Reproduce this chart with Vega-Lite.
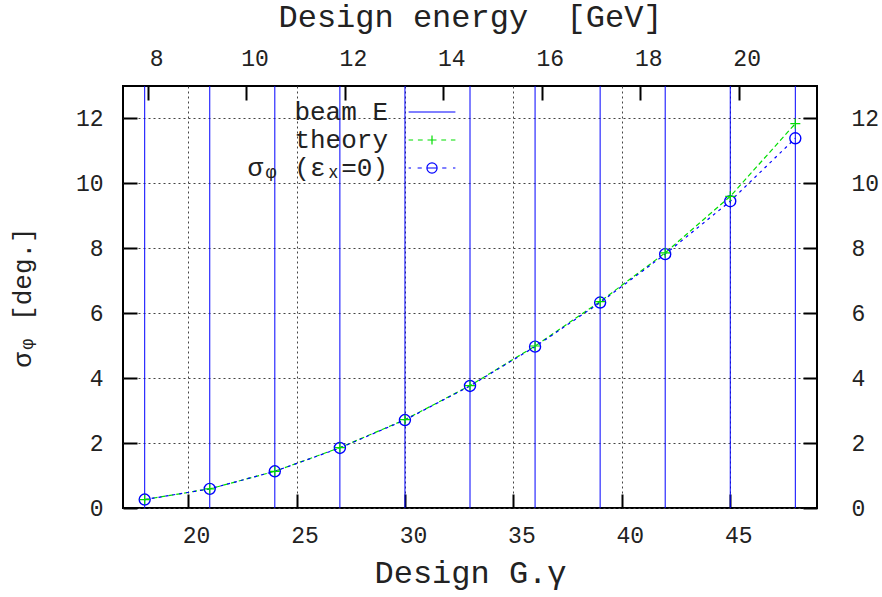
{
  "$schema": "https://vega.github.io/schema/vega-lite/v6.json",
  "width": 694,
  "height": 422,
  "autosize": {"type": "none"},
  "padding": {"left": 123, "top": 86, "right": 65, "bottom": 89},
  "background": "white",
  "config": {
    "view": {"stroke": "#000", "strokeWidth": 2},
    "font": "Liberation Mono",
    "axis": {
      "labelFont": "Liberation Mono",
      "titleFont": "Liberation Mono",
      "labelColor": "#222",
      "titleColor": "#222",
      "titleFontWeight": "normal",
      "labelFontSize": 23,
      "titleFontSize": 32,
      "domain": false,
      "tickColor": "#000",
      "tickWidth": 2,
      "tickSize": -14,
      "grid": false,
      "gridColor": "#444",
      "gridDash": [2, 3],
      "gridWidth": 1,
      "gridOpacity": 1
    }
  },
  "datasets": {
    "beam": [
      {"Ggamma": 18, "E": 7.9317},
      {"Ggamma": 21, "E": 9.2536},
      {"Ggamma": 24, "E": 10.5756},
      {"Ggamma": 27, "E": 11.8975},
      {"Ggamma": 30, "E": 13.2195},
      {"Ggamma": 33, "E": 14.5414},
      {"Ggamma": 36, "E": 15.8634},
      {"Ggamma": 39, "E": 17.1853},
      {"Ggamma": 42, "E": 18.5073},
      {"Ggamma": 45, "E": 19.8292},
      {"Ggamma": 48, "E": 21.1512}
    ],
    "sig": [
      {"Ggamma": 18, "sigma": 0.26, "theory": 0.26},
      {"Ggamma": 21, "sigma": 0.59, "theory": 0.59},
      {"Ggamma": 24, "sigma": 1.13, "theory": 1.13},
      {"Ggamma": 27, "sigma": 1.85, "theory": 1.86},
      {"Ggamma": 30, "sigma": 2.71, "theory": 2.72},
      {"Ggamma": 33, "sigma": 3.76, "theory": 3.77},
      {"Ggamma": 36, "sigma": 4.97, "theory": 4.99},
      {"Ggamma": 39, "sigma": 6.33, "theory": 6.36},
      {"Ggamma": 42, "sigma": 7.82, "theory": 7.86},
      {"Ggamma": 45, "sigma": 9.45, "theory": 9.6},
      {"Ggamma": 48, "sigma": 11.39, "theory": 11.84}
    ],
    "leg": []
  },
  "layer": [
    {
      "data": {"name": "beam"},
      "mark": {"type": "rule", "color": "#0000ff", "strokeWidth": 1},
      "encoding": {
        "x": {
          "field": "E",
          "type": "quantitative",
          "scale": {"domain": [7.491, 21.5918], "nice": false, "zero": false},
          "axis": {
            "orient": "top",
            "values": [8, 10, 12, 14, 16, 18, 20],
            "title": "Design energy\u00a0\u00a0[GeV]",
            "labelOffset": 8,
            "labelPadding": 30,
            "titlePadding": 14
          }
        }
      }
    },
    {
      "data": {"name": "sig"},
      "mark": {"type": "line", "color": "#00dd00", "strokeWidth": 1.2, "strokeDash": [5, 3]},
      "encoding": {
        "x": {
          "field": "Ggamma",
          "type": "quantitative",
          "scale": {"domain": [17, 49], "nice": false, "zero": false},
          "axis": {
            "orient": "bottom",
            "values": [20, 25, 30, 35, 40, 45],
            "grid": true,
            "title": "Design G.γ",
            "labelOffset": 8,
            "labelPadding": 30,
            "titlePadding": 10
          }
        },
        "y": {
          "field": "theory",
          "type": "quantitative",
          "scale": {"domain": [0, 13], "nice": false},
          "axis": {
            "orient": "left",
            "values": [0, 2, 4, 6, 8, 10, 12],
            "grid": true,
            "title": "σᵩ [deg.]",
            "titleFontSize": 26,
            "labelPadding": 34,
            "titlePadding": 40
          }
        }
      }
    },
    {
      "data": {"name": "sig"},
      "mark": {"type": "line", "color": "#0000ff", "strokeWidth": 1.2, "strokeDash": [3, 4]},
      "encoding": {
        "x": {"field": "Ggamma", "type": "quantitative", "scale": {"domain": [17, 49], "nice": false, "zero": false}, "axis": null},
        "y": {
          "field": "sigma",
          "type": "quantitative",
          "scale": {"domain": [0, 13], "nice": false},
          "axis": {
            "orient": "right",
            "values": [0, 2, 4, 6, 8, 10, 12],
            "title": null,
            "labelPadding": 48
          }
        }
      }
    },
    {
      "data": {"name": "sig"},
      "mark": {"type": "point", "shape": "circle", "size": 121, "filled": false, "color": "#0000ff", "strokeWidth": 1.4, "opacity": 1},
      "encoding": {
        "x": {"field": "Ggamma", "type": "quantitative", "scale": {"domain": [17, 49], "nice": false, "zero": false}, "axis": null},
        "y": {"field": "sigma", "type": "quantitative", "scale": {"domain": [0, 13], "nice": false}, "axis": null}
      }
    },
    {
      "data": {"name": "sig"},
      "mark": {"type": "point", "shape": "M-1,0H1M0,-1V1", "size": 100, "filled": false, "color": "#00dd00", "strokeWidth": 1.2, "opacity": 1},
      "encoding": {
        "x": {"field": "Ggamma", "type": "quantitative", "scale": {"domain": [17, 49], "nice": false, "zero": false}, "axis": null},
        "y": {"field": "theory", "type": "quantitative", "scale": {"domain": [0, 13], "nice": false}, "axis": null}
      }
    },
    {
      "data": {"name": "leg"},
      "mark": {"type": "point", "filled": false, "strokeWidth": 1.2, "opacity": 1},
      "encoding": {
        "color": {
          "field": "series",
          "type": "nominal",
          "scale": {"domain": ["beam E", "theory", "σᵩ (εₓ=0)"], "range": ["#0000ff", "#00dd00", "#0000ff"]},
          "legend": {
            "orient": "none",
            "legendX": 296,
            "legendY": 13,
            "title": null,
            "padding": 0,
            "labelAlign": "right",
            "labelOffset": -57,
            "labelFont": "Liberation Mono",
            "labelFontSize": 26,
            "labelColor": "#222",
            "symbolSize": 144,
            "symbolStrokeWidth": 1.2,
            "symbolFillColor": "transparent",
            "rowPadding": 2
          }
        },
        "shape": {
          "field": "series",
          "type": "nominal",
          "scale": {
            "domain": ["beam E", "theory", "σᵩ (εₓ=0)"],
            "range": [
              "M-3.9,0H3.9",
              "M-3.9,0H-3.15M-2.35,0H-1.55M-0.75,0H0.75M1.55,0H2.35M3.15,0H3.9M0,-0.75V0.75",
              "M-3.9,0H-3.5M-2.4,0H-1.7M-0.85,0A0.85,0.85 0 1,0 0.85,0A0.85,0.85 0 1,0 -0.85,0M-0.85,0H0.85M1.7,0H2.4M3.5,0H3.9"
            ]
          },
          "legend": {
            "orient": "none",
            "legendX": 296,
            "legendY": 13,
            "title": null,
            "padding": 0,
            "labelAlign": "right",
            "labelOffset": -57,
            "labelFont": "Liberation Mono",
            "labelFontSize": 26,
            "labelColor": "#222",
            "symbolSize": 144,
            "symbolStrokeWidth": 1.2,
            "symbolFillColor": "transparent",
            "rowPadding": 2
          }
        }
      }
    }
  ],
  "resolve": {"scale": {"x": "independent", "y": "independent", "color": "shared", "shape": "shared"}}
}
